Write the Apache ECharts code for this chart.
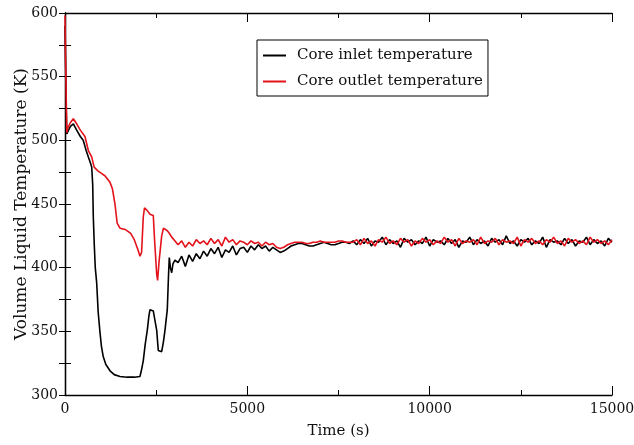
<!DOCTYPE html>
<html>
<head>
<meta charset="utf-8">
<script src="https://cdn.jsdelivr.net/npm/echarts@6/dist/echarts.min.js"></script>
<style>html,body{margin:0;padding:0;background:#fff;}#c{width:634px;height:445px;}</style>
</head>
<body>
<div id="c"></div>
<script>
// Transient part (time s, temperature K)
var inletEarly = [
  [0,590],[15,560],[30,530],[50,505],[80,507],[150,511],[230,513],[320,508],[420,503],[500,500],
  [580,492],[640,487],[700,482],[732,479],[760,465],[776,440],[800,420],[830,400],[869,388],[910,365],
  [960,349],[1000,338],[1050,330],[1120,324],[1234,319],[1350,316],[1508,314.5],[1700,314],[1900,314],
  [2056,314.5],[2100,320],[2147,327],[2200,340],[2257,351],[2300,362],[2331,367],[2380,368],[2421,366],
  [2470,358],[2514,351],[2558,335],[2600,334],[2651,334],[2700,342],[2742,351],[2805,367],[2840,395],
  [2860,408],[2890,400],[2926,396],[2960,403],[3016,406]
];
var outletEarly = [
  [0,598],[15,565],[30,540],[50,506],[80,510],[150,514],[228,517],[320,513],[420,508],[548,503],
  [640,492],[732,487],[800,479],[900,476],[1000,474],[1100,472],[1234,467],[1300,462],[1370,450],
  [1430,435],[1508,431],[1650,430],[1800,427],[1900,422],[2000,414],[2056,409],[2100,412],[2147,440],
  [2180,447],[2250,445],[2331,442],[2421,441],[2460,420],[2514,395],[2540,390],[2580,405],[2651,425],
  [2700,431],[2742,431],[2805,429],[2860,427],[2926,424],[3016,421]
];
// Quasi-steady part: sampled every 100 s from 3100 s to 15000 s
var plateauStart = 3100, plateauStep = 100;
var inletPlateau = [
  404,409,401,410,405,411,407,
  413,409,415,411,416,408,414,412,417,410,415,
  416,412,417,414,418,415,417,413,416,
  414,412,413,415,
  417,418,419,419,418,417,417,418,419,420,419,418,418,419,420,420,419,
  421,418,422,419,423,417,421,420,424,418,422,419,421,416,423,420,422,418,421,419,
  424,417,422,420,421,418,423,419,422,416,421,420,424,418,422,419,421,417,423,420,
  422,418,425,419,421,417,422,420,423,418,421,419,424,416,422,420,421,418,423,419,
  422,417,421,420,424,418,422,419,421,417,423,420
];
var outletPlateau = [
  418,421,416,420,417,422,419,
  421,418,423,419,422,417,424,420,422,418,421,
  420,418,421,419,420,417,420,418,419,
  416,415,416,418,
  419,420,420,420,419,419,420,420,421,420,420,420,420,421,421,420,420,
  420,422,418,423,419,421,417,422,420,424,419,421,418,423,420,422,417,421,419,423,
  420,422,418,421,419,424,420,422,417,423,419,421,420,422,418,424,419,421,420,423,
  418,422,420,421,419,424,417,422,420,423,419,421,418,422,420,424,419,421,417,423,
  420,422,419,421,418,424,420,422,419,421,418,422
];
var seriesNames = ['Core inlet temperature', 'Core outlet temperature'];

function build(early, plateau) {
  var out = early.slice();
  for (var i = 0; i < plateau.length; i++) out.push([plateauStart + i * plateauStep, plateau[i]]);
  return out;
}

var font = 'DejaVu Serif';
var chart = echarts.init(document.getElementById('c'), null, {renderer: 'canvas'});
var axisLine = {show: true, lineStyle: {color: '#000', width: 1.3}};
var plain = function (v) { return String(v); };
chart.setOption({
  animation: false,
  backgroundColor: '#fff',
  grid: {left: 65, right: 22, top: 13, bottom: 50, containLabel: false, outerBoundsMode: 'none'},
  legend: {
    orient: 'vertical', left: 257, top: 40,
    data: seriesNames,
    icon: 'rect', itemWidth: 23, itemHeight: 2, itemGap: 11,
    borderColor: '#000', borderWidth: 1, padding: [8, 5, 7, 6],
    textStyle: {fontFamily: font, fontSize: 15, color: '#111', padding: [0, 0, 0, 6]}
  },
  xAxis: [{
    type: 'value', min: 0, max: 15000, interval: 5000, position: 'bottom',
    name: 'Time (s)', nameLocation: 'middle', nameGap: 29, nameMoveOverlap: false,
    nameTextStyle: {fontFamily: font, fontSize: 15, color: '#111'},
    axisLine: axisLine,
    axisTick: {inside: true, length: 9, lineStyle: {color: '#000'}},
    minorTick: {show: true, splitNumber: 2, length: 5, lineStyle: {color: '#000'}},
    axisLabel: {fontFamily: font, fontSize: 14, color: '#111', margin: 7, formatter: plain},
    splitLine: {show: false}
  }, {
    type: 'value', min: 0, max: 15000, interval: 5000, position: 'top',
    axisLine: axisLine,
    axisTick: {inside: true, length: 9, lineStyle: {color: '#000'}},
    minorTick: {show: true, splitNumber: 2, length: 5, lineStyle: {color: '#000'}},
    axisLabel: {show: false}, splitLine: {show: false}
  }],
  yAxis: [{
    type: 'value', min: 300, max: 600, interval: 50, position: 'left',
    name: 'Volume Liquid Temperature (K)', nameLocation: 'middle', nameGap: 35, nameMoveOverlap: false,
    nameTextStyle: {fontFamily: font, fontSize: 17, color: '#111'},
    axisLine: axisLine,
    axisTick: {inside: true, length: 6, lineStyle: {color: '#000'}},
    minorTick: {show: true, splitNumber: 2, length: 6, lineStyle: {color: '#000'}},
    axisLabel: {fontFamily: font, fontSize: 14, color: '#111', margin: 7, formatter: plain},
    splitLine: {show: false}
  }, {
    type: 'value', min: 300, max: 600, interval: 50, position: 'right',
    axisLine: axisLine,
    axisTick: {inside: true, length: 6, lineStyle: {color: '#000'}},
    minorTick: {show: true, splitNumber: 2, length: 6, lineStyle: {color: '#000'}},
    axisLabel: {show: false}, splitLine: {show: false}
  }],
  series: [{
    name: seriesNames[0], type: 'line', data: build(inletEarly, inletPlateau),
    showSymbol: false, symbol: 'none', color: '#000',
    lineStyle: {color: '#000', width: 1.6}
  }, {
    name: seriesNames[1], type: 'line', data: build(outletEarly, outletPlateau),
    showSymbol: false, symbol: 'none', color: '#e3121b',
    lineStyle: {color: '#e3121b', width: 1.6}
  }]
});
</script>
</body>
</html>
